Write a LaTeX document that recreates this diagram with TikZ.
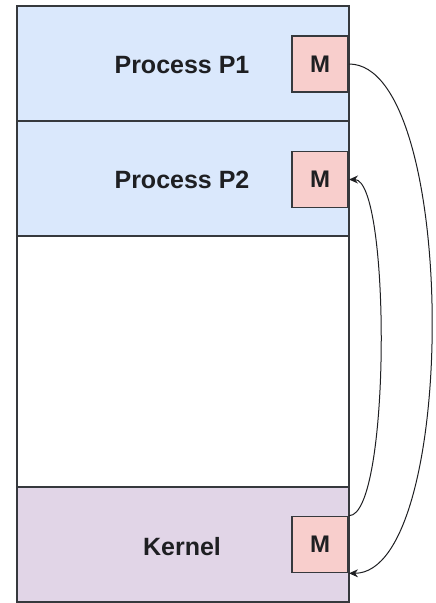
\documentclass[tikz,border=0pt]{standalone}
\usepackage{fontspec}
\setmainfont{Liberation Sans}
\usetikzlibrary{arrows.meta, calc}
\definecolor{procblue}{HTML}{DAE8FC}
\definecolor{kernpurple}{HTML}{E1D5E7}
\definecolor{msgpink}{HTML}{F8CECC}
\definecolor{edge}{HTML}{36393D}
\definecolor{ink}{HTML}{1E1F22}

\begin{document}
\begin{tikzpicture}[x=1pt, y=-1pt,
  region/.style={draw=edge, line width=1.6pt, rectangle, inner sep=0pt,
    minimum width=332pt, minimum height=115pt},
  lbl/.style={text=ink, font=\fontsize{25}{30}\selectfont\bfseries},
  mbox/.style={draw=edge, line width=1.6pt, fill=msgpink, inner sep=0pt,
    minimum size=56pt, anchor=east, font=\fontsize{24}{28}\selectfont\bfseries, text=ink},
  msg/.style={draw=ink, line width=1pt, -{Stealth[length=9pt, width=8pt]}}]

% Canvas
\useasboundingbox (0,0) rectangle (436,603);

% Memory layout (top to bottom)
\node[region, fill=procblue] (p1) at (183,63.5) {};
\node[region, fill=procblue] (p2) at (183,178.5) {};
\node[region, fill=white, minimum height=251pt] (free) at (183,361.5) {};
\node[region, fill=kernpurple] (kern) at (183,544.5) {};

% Labels
\node[lbl] (p1lbl) at (182,65) {Process P1};
\node[lbl] (p2lbl) at (182,180) {Process P2};
\node[lbl] (kernlbl) at (182,547) {Kernel};

% Message buffers
\node[mbox] (m1) at (349,64) {M};
\node[mbox] (m2) at (349,179.5) {M};
\node[mbox] (mk) at (349,544.5) {M};

% P1 -> kernel
\draw[msg] (m1.east) .. controls +(110,0) and +(110,0) .. (mk.south east);
% kernel -> P2
\draw[msg] (mk.north east) .. controls +(42,0) and +(42,0) .. (m2.east);

\end{tikzpicture}
\end{document}
